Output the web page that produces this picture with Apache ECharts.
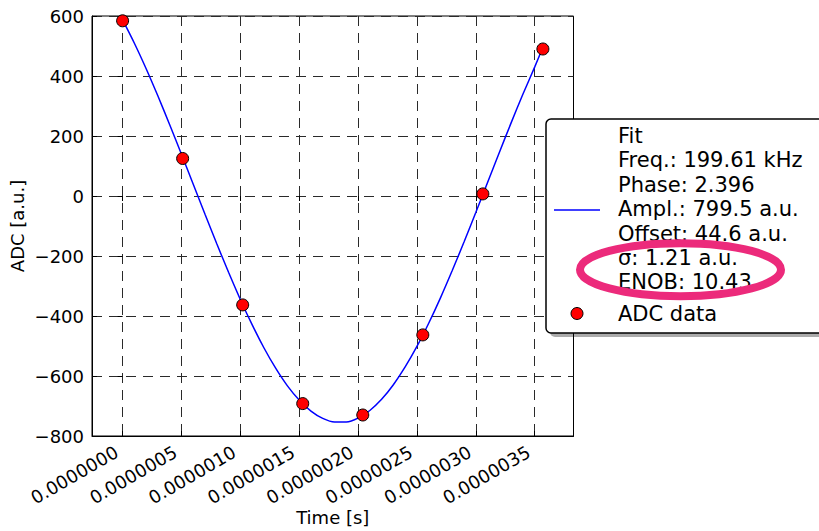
<!DOCTYPE html>
<html>
<head>
<meta charset="utf-8">
<script src="https://cdn.jsdelivr.net/npm/echarts@6/dist/echarts.min.js"></script>
<style>
  html, body { margin: 0; padding: 0; background: #fff; }
  #chart { width: 819px; height: 531px; }
</style>
</head>
<body>
<div id="chart"></div>
<script>
// Sampled ADC readings (time in seconds, value in a.u.)
const sampleTime = [0, 0.51e-6, 1.02e-6, 1.53e-6, 2.04e-6, 2.55e-6, 3.06e-6, 3.57e-6];
const adcValues = [584, 125, -363, -692, -730, -463, 7, 490];

// Fitted sine curve, tabulated every 0.1 µs
const fitTimeUs = [0, 0.1, 0.2, 0.3, 0.4, 0.5, 0.6, 0.7, 0.8, 0.9,
  1.0, 1.1, 1.2, 1.3, 1.4, 1.5, 1.6, 1.7, 1.8, 1.9,
  2.0, 2.1, 2.2, 2.3, 2.4, 2.5, 2.6, 2.7, 2.8, 2.9,
  3.0, 3.1, 3.2, 3.3, 3.4, 3.5, 3.57];
const fitValues = [587.0, 509.3, 424.3, 333.2, 237.7, 139.1, 39.1, -60.9, -159.2, -254.3,
  -344.8, -429.0, -505.8, -574.0, -632.9, -680.3, -716.9, -741.4, -753.5, -753.1,
  -740.2, -714.9, -677.8, -629.2, -569.9, -501.5, -424.1, -339.4, -248.5, -153.4,
  -54.8, 45.2, 145.3, 243.7, 339.0, 429.6, 495.5];

// Axis ticks
const xTicks = [0, 0.5e-6, 1.0e-6, 1.5e-6, 2.0e-6, 2.5e-6, 3.0e-6, 3.5e-6];

// Legend text
const fitLabelLines = ['Fit', 'Freq.: 199.61 kHz', 'Phase: 2.396', 'Ampl.: 799.5 a.u.',
  'Offset: 44.6 a.u.', '\u03c3: 1.21 a.u.', 'ENOB: 10.43'];
const dataLabel = 'ADC data';

const FONT = '"DejaVu Sans", "Liberation Sans", sans-serif';
const TICK_SIZE = 18;
const NAME_SIZE = 18;
const LEGEND_SIZE = 21;

const fmtY = v => (v < 0 ? '\u2212' + Math.abs(v) : String(v));
const fmtX = v => Math.abs(v) < 1e-12 ? (0).toFixed(7) : v.toFixed(7);

const gridLine = { show: true, lineStyle: { color: '#2a2a2a', width: 1, type: [10, 7] } };

const chart = echarts.init(document.getElementById('chart'), null, { renderer: 'svg' });

// Legend block drawn as graphics
const legendX = 546, legendY = 119, legendW = 300, legendH = 214;
const textX = 618;
const lineStep = 24.4;
const firstLineY = 136;
const legendGraphics = [
  { type: 'rect', z: 100, shape: { x: legendX + 4, y: legendY + 4, width: legendW, height: legendH, r: 5 },
    style: { fill: 'rgba(0,0,0,0.33)' } },
  { type: 'rect', z: 101, shape: { x: legendX, y: legendY, width: legendW, height: legendH, r: 5 },
    style: { fill: '#fff', stroke: '#000', lineWidth: 1.5 } },
  { type: 'line', z: 102, shape: { x1: 554, y1: 210, x2: 600, y2: 210 },
    style: { stroke: '#0000ff', lineWidth: 1.5 } },
  { type: 'circle', z: 102, shape: { cx: 577, cy: 313.5, r: 6 },
    style: { fill: '#ff0000', stroke: '#000', lineWidth: 1 } }
];
fitLabelLines.forEach((t, i) => {
  legendGraphics.push({
    type: 'text', z: 102, x: textX, y: firstLineY + i * lineStep,
    style: { text: t, fontSize: LEGEND_SIZE, fontFamily: FONT, fill: '#000', align: 'left', verticalAlign: 'middle' }
  });
});
legendGraphics.push({
  type: 'text', z: 102, x: textX, y: 313.5,
  style: { text: dataLabel, fontSize: LEGEND_SIZE, fontFamily: FONT, fill: '#000', align: 'left', verticalAlign: 'middle' }
});
// Highlight ring around the noise figures
legendGraphics.push({
  type: 'ellipse', z: 103, shape: { cx: 680.5, cy: 269.7, rx: 100.5, ry: 26.5 },
  style: { fill: 'none', stroke: '#ec2a7b', lineWidth: 8 }
});

const option = {
  animation: false,
  backgroundColor: '#fff',
  textStyle: { fontFamily: FONT },
  grid: { left: 92, top: 16, width: 481.5, height: 420, show: true, borderColor: '#000', borderWidth: 1,
    backgroundColor: 'transparent', containLabel: false, outerBoundsMode: 'none' },
  xAxis: [{
    type: 'value', min: -0.26e-6, max: 3.83e-6,
    name: 'Time [s]', nameLocation: 'middle', nameGap: 72, nameMoveOverlap: false,
    nameTextStyle: { fontSize: NAME_SIZE, color: '#000', fontFamily: FONT },
    axisLine: { show: true, onZero: false, lineStyle: { color: '#000', width: 1 } },
    axisTick: { show: true, inside: true, length: 5, customValues: xTicks, lineStyle: { color: '#000' } },
    axisLabel: { show: true, customValues: xTicks, rotate: 30, margin: 11, padding: [0, 7, 0, 0],
      formatter: fmtX, fontSize: TICK_SIZE, color: '#000', fontFamily: FONT },
    splitLine: gridLine
  }, {
    type: 'value', position: 'top', min: -0.26e-6, max: 3.83e-6,
    axisLine: { show: false },
    axisTick: { show: true, inside: true, length: 5, customValues: xTicks, lineStyle: { color: '#000' } },
    axisLabel: { show: false },
    splitLine: { show: false }
  }],
  yAxis: [{
    type: 'value', min: -800, max: 600, interval: 200,
    name: 'ADC [a.u.]', nameLocation: 'middle', nameGap: 66, nameMoveOverlap: false,
    nameTextStyle: { fontSize: NAME_SIZE, color: '#000', fontFamily: FONT },
    axisLine: { show: true, onZero: false, lineStyle: { color: '#000', width: 1 } },
    axisTick: { show: true, inside: true, length: 5, lineStyle: { color: '#000' } },
    axisLabel: { show: true, margin: 8, formatter: fmtY, fontSize: TICK_SIZE, color: '#000', fontFamily: FONT },
    splitLine: gridLine
  }, {
    type: 'value', position: 'right', min: -800, max: 600, interval: 200,
    axisLine: { show: false },
    axisTick: { show: true, inside: true, length: 5, lineStyle: { color: '#000' } },
    axisLabel: { show: false },
    splitLine: { show: false }
  }],
  series: [{
    name: 'Fit', type: 'line', xAxisIndex: 0, yAxisIndex: 0,
    data: fitTimeUs.map((t, i) => [t * 1e-6, fitValues[i]]),
    showSymbol: false, symbol: 'none', smooth: 0.3,
    lineStyle: { color: '#0000ff', width: 1.5 }, z: 3
  }, {
    name: dataLabel, type: 'scatter', xAxisIndex: 0, yAxisIndex: 0,
    data: sampleTime.map((t, i) => [t, adcValues[i]]),
    symbol: 'circle', symbolSize: 12,
    itemStyle: { color: '#ff0000', borderColor: '#000', borderWidth: 1, opacity: 1 }, z: 4
  }],
  graphic: legendGraphics
};

chart.setOption(option);
</script>
</body>
</html>
